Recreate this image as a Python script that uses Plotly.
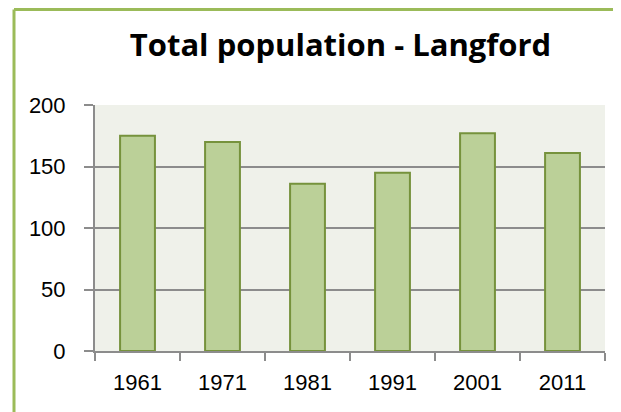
import plotly.graph_objects as go

years = ["1961", "1971", "1981", "1991", "2001", "2011"]
population = [175, 170, 136, 145, 177, 161]
y_ticks = [0, 50, 100, 150, 200]

# the page has an 8px body margin, so the figure is offset by 8px
W, H = 613, 404
L, R, T, B = 87, 16, 97, 61
pw, ph = W - L - R, H - T - B

fig = go.Figure(go.Bar(
    x=years, y=population,
    marker=dict(color="#BBD098", line=dict(color="#76923C", width=2)),
    width=0.41,
))

fig.update_layout(
    width=W, height=H,
    margin=dict(l=L, r=R, t=T, b=B),
    paper_bgcolor="white",
    plot_bgcolor="#EFF1EA",
    showlegend=False,
    font=dict(family="Liberation Sans, Arial, sans-serif", size=22, color="black"),
    title=dict(text="<b>Total population - Langford</b>", x=332.5 / W, xanchor="center",
               y=1 - 37 / H, yanchor="middle",
               font=dict(size=31, family="Open Sans, Liberation Sans, sans-serif")),
    xaxis=dict(type="category", tickson="boundaries", ticks="outside", ticklen=8,
               tickcolor="#8C8C8C", tickwidth=2, showline=True, linecolor="#8C8C8C",
               linewidth=2, showgrid=False, ticklabelstandoff=11),
    yaxis=dict(range=[0, 200], tickvals=y_ticks, ticks="outside", ticklen=9,
               tickcolor="#8C8C8C", tickwidth=2, showline=True, linecolor="#8C8C8C",
               linewidth=2, showgrid=True, gridcolor="#8C8C8C", gridwidth=1.5,
               zeroline=False, ticklabelstandoff=14),
)

# green chart border (left and top)
xl = (6 - L) / pw
yt = (T - 1.5) / ph + 1
fig.add_shape(type="line", xref="paper", yref="paper",
              x0=xl, x1=xl, y0=-0.5, y1=yt,
              line=dict(color="#9BBB59", width=3))
fig.add_shape(type="line", xref="paper", yref="paper",
              x0=xl, x1=(W - L) / pw + 0.1, y0=yt, y1=yt,
              line=dict(color="#9BBB59", width=3))

fig.write_html("out.html")
